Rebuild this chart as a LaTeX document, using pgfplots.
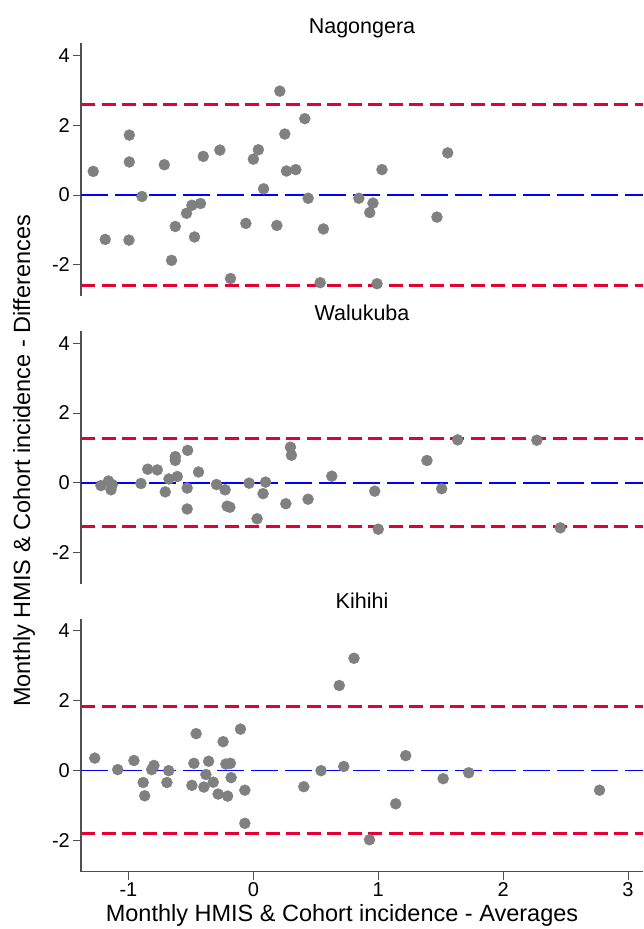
\documentclass[border=0pt]{standalone}
\usepackage{fontspec}
\setmainfont{Liberation Sans}
\usepackage{pgfplots}
\usepackage{pgfplotstable}
\pgfplotsset{compat=1.18}

\definecolor{limred}{RGB}{228,0,52}
\definecolor{dotgray}{RGB}{128,128,128}
\definecolor{axgray}{RGB}{80,80,80}

% Bland-Altman points: average (x) vs difference (y)
\pgfplotstableread{
x y
-1.282 0.68
-1.186 -1.27
-0.993 1.72
-0.993 0.95
-0.996 -1.29
-0.892 -0.04
-0.713 0.87
-0.655 -1.87
-0.625 -0.90
-0.535 -0.52
-0.492 -0.29
-0.471 -1.20
-0.423 -0.24
-0.401 1.11
-0.268 1.29
-0.183 -2.39
-0.060 -0.81
0.000 1.03
0.040 1.30
0.082 0.18
0.188 -0.87
0.212 2.98
0.252 1.75
0.265 0.69
0.340 0.73
0.412 2.19
0.439 -0.09
0.561 -0.97
0.535 -2.51
0.845 -0.09
0.958 -0.23
0.932 -0.50
1.030 0.73
0.990 -2.54
1.470 -0.63
1.556 1.21
}\nagongera

\pgfplotstableread{
x y
-1.22 -0.08
-1.16 0.05
-1.14 -0.20
-1.13 -0.05
-0.900 -0.02
-0.846 0.39
-0.769 0.37
-0.705 -0.26
-0.676 0.11
-0.625 0.75
-0.625 0.64
-0.609 0.18
-0.526 0.93
-0.530 -0.15
-0.530 -0.75
-0.439 0.31
-0.295 -0.05
-0.226 -0.20
-0.210 -0.67
-0.188 -0.70
-0.034 -0.01
0.030 -1.03
0.078 -0.31
0.098 0.02
0.260 -0.60
0.297 1.02
0.305 0.79
0.438 -0.47
0.628 0.19
0.972 -0.24
1.000 -1.33
1.390 0.64
1.508 -0.17
1.636 1.23
2.270 1.22
2.458 -1.29
}\walukuba

\pgfplotstableread{
x y
-1.270 0.35
-1.086 0.02
-0.956 0.28
-0.882 -0.35
-0.870 -0.73
-0.814 0.02
-0.796 0.14
-0.692 -0.35
-0.678 -0.01
-0.492 -0.43
-0.476 0.20
-0.458 1.05
-0.396 -0.48
-0.380 -0.12
-0.358 0.26
-0.321 -0.34
-0.282 -0.68
-0.242 0.82
-0.206 -0.74
-0.220 0.18
-0.184 0.20
-0.178 -0.21
-0.103 1.18
-0.068 -0.57
-0.068 -1.52
0.404 -0.47
0.542 -0.01
0.724 0.11
0.688 2.43
0.806 3.21
0.930 -1.99
1.140 -0.96
1.220 0.42
1.520 -0.24
1.724 -0.07
2.772 -0.57
}\kihihi

\pgfplotsset{
  ba/.style={
    scale only axis, width=562pt, height=253pt,
    xmin=-1.38, xmax=3.12, ymin=-2.9, ymax=4.35,
    axis y line*=left,
    ytick={-2,0,2,4},
    tick align=outside, major tick length=8pt,
    axis line style={axgray, line width=1.3pt},
    tick style={axgray, line width=1pt},
    /pgf/number format/assume math mode=true,
    ticklabel style={font=\fontsize{20}{22}\selectfont},
    yticklabel style={inner sep=0pt, xshift=-3pt},
    xticklabel style={inner sep=0pt, yshift=-3pt},
    every axis title/.style={at={(0.5,1)}, anchor=base, yshift=10.3pt,
      font=\fontsize{21.5}{24}\selectfont},
    clip=false,
  },
  zero/.style={blue, line width=1.5pt, dash pattern=on 27pt off 7pt},
  lim/.style={limred, line width=3pt, dash pattern=on 14pt off 6.5pt},
  dots/.style={only marks, mark=*, mark size=5.5pt,
    mark options={fill=dotgray, draw=dotgray}},
}

\begin{document}
\begin{tikzpicture}
\path[use as bounding box] (0,0) rectangle (643pt,-929pt);

\begin{axis}[ba, at={(81pt,-43.3pt)}, anchor=north west,
  axis x line=none, xtick=\empty, title={Nagongera}]
  \addplot[zero] coordinates {(-1.38,0) (3.12,0)};
  \addplot[lim] coordinates {(-1.38,2.6) (3.12,2.6)};
  \addplot[lim] coordinates {(-1.38,-2.6) (3.12,-2.6)};
  \addplot[dots] table[x=x, y=y] {\nagongera};
\end{axis}

\begin{axis}[ba, at={(81pt,-331pt)}, anchor=north west,
  axis x line=none, xtick=\empty, title={Walukuba}]
  \addplot[zero] coordinates {(-1.38,0) (3.12,0)};
  \addplot[lim] coordinates {(-1.38,1.26) (3.12,1.26)};
  \addplot[lim] coordinates {(-1.38,-1.26) (3.12,-1.26)};
  \addplot[dots] table[x=x, y=y] {\walukuba};
\end{axis}

\begin{axis}[ba, at={(81pt,-618.5pt)}, anchor=north west,
  axis x line*=bottom, xtick={-1,0,1,2,3}, title={Kihihi}]
  \addplot[zero] coordinates {(-1.38,0) (3.12,0)};
  \addplot[lim] coordinates {(-1.38,1.82) (3.12,1.82)};
  \addplot[lim] coordinates {(-1.38,-1.82) (3.12,-1.82)};
  \addplot[dots] table[x=x, y=y] {\kihihi};
\end{axis}

\node[rotate=90, anchor=base, font=\fontsize{23.5}{26}\selectfont]
  at (30pt,-461pt) {Monthly HMIS \& Cohort incidence - Differences};
\node[anchor=base, font=\fontsize{23.5}{26}\selectfont]
  at (342pt,-921pt) {Monthly HMIS \& Cohort incidence - Averages};
\end{tikzpicture}
\end{document}
